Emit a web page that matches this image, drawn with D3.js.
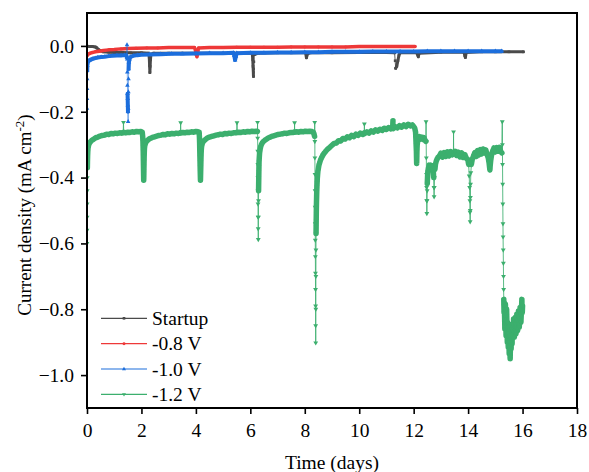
<!DOCTYPE html>
<html><head><meta charset="utf-8">
<script src="https://cdn.jsdelivr.net/npm/d3@7"></script>
<style>html,body{margin:0;padding:0;background:#fff;} svg{display:block;font-family:"Liberation Serif","Times New Roman",serif;}</style>
</head><body><svg id="chart" width="589" height="472"></svg>
<script>
const xTicks=[0,2,4,6,8,10,12,14,16,18];
const yTicks=[0,-0.2,-0.4,-0.6,-0.8,-1.0];
const seriesNames=["Startup","-0.8 V","-1.0 V","-1.2 V"];

const startup=[[0.000,-0.001],[0.10,-0.002],[0.20,-0.002],[0.30,-0.003],[0.36,-0.006],[0.42,-0.011],[0.50,-0.015],[0.60,-0.018],[0.80,-0.019],[1.0,-0.020],[1.3,-0.020],[1.6,-0.021],[2.0,-0.021],[2.27,-0.022],[2.29,-0.040],[2.30,-0.060],[2.31,-0.081],[2.32,-0.062],[2.33,-0.042],[2.35,-0.025],[2.45,-0.022],[3.0,-0.022],[3.5,-0.022],[4.0,-0.022],[4.5,-0.022],[5.0,-0.022],[5.5,-0.022],[6.07,-0.022],[6.09,-0.042],[6.10,-0.062],[6.11,-0.080],[6.115,-0.093],[6.12,-0.070],[6.13,-0.048],[6.15,-0.026],[6.3,-0.022],[7.0,-0.021],[7.5,-0.021],[8.03,-0.021],[8.06,-0.036],[8.10,-0.024],[8.2,-0.021],[9.0,-0.021],[10.0,-0.020],[11.0,-0.020],[11.3,-0.021],[11.32,-0.045],[11.34,-0.068],[11.38,-0.062],[11.42,-0.045],[11.46,-0.028],[11.5,-0.021],[12.1,-0.020],[12.15,-0.028],[12.17,-0.033],[12.20,-0.022],[13.0,-0.019],[13.85,-0.019],[13.88,-0.030],[13.90,-0.035],[13.93,-0.020],[14.5,-0.018],[15.0,-0.018],[15.5,-0.018],[16.03,-0.018]];

const v08=[[0.000,-0.030],[0.01,-0.028],[0.03,-0.026],[0.07,-0.024],[0.12,-0.022],[0.2,-0.020],[0.3,-0.018],[0.45,-0.016],[0.6,-0.014],[0.8,-0.012],[1.0,-0.011],[1.25,-0.009],[1.5,-0.008],[1.8,-0.007],[2.2,-0.006],[2.6,-0.006],[3.0,-0.005],[3.5,-0.005],[3.95,-0.005],[3.99,-0.015],[4.02,-0.028],[4.04,-0.033],[4.07,-0.018],[4.10,-0.006],[4.5,-0.005],[5.0,-0.005],[5.5,-0.004],[6.0,-0.004],[6.5,-0.004],[7.0,-0.004],[7.5,-0.003],[8.0,-0.003],[8.5,-0.003],[9.0,-0.003],[9.5,-0.003],[10.0,-0.002],[10.5,-0.002],[11.0,-0.002],[11.5,-0.002],[12.05,-0.002]];

const v10=[[0.000,-0.190],[0.002,-0.160],[0.004,-0.130],[0.006,-0.100],[0.009,-0.075],[0.013,-0.060],[0.02,-0.052],[0.04,-0.048],[0.07,-0.045],[0.11,-0.043],[0.16,-0.041],[0.22,-0.039],[0.30,-0.037],[0.40,-0.035],[0.52,-0.034],[0.65,-0.033],[0.80,-0.031],[0.95,-0.030],[1.10,-0.029],[1.25,-0.029],[1.38,-0.028],[1.45,-0.029],[1.465,-0.035],[1.47,0.003],[1.475,-0.040],[1.48,-0.080],[1.485,-0.120],[1.49,-0.145],[1.495,-0.160],[1.50,-0.180],[1.505,-0.200],[1.51,-0.230],[1.515,-0.190],[1.52,-0.140],[1.525,-0.100],[1.53,-0.070],[1.54,-0.050],[1.56,-0.040],[1.60,-0.033],[1.70,-0.030],[1.85,-0.028],[2.0,-0.027],[2.3,-0.026],[2.7,-0.025],[3.1,-0.024],[3.5,-0.024],[4.0,-0.023],[4.5,-0.022],[5.0,-0.022],[5.38,-0.021],[5.41,-0.030],[5.44,-0.043],[5.47,-0.032],[5.50,-0.022],[6.0,-0.021],[6.5,-0.021],[7.0,-0.020],[7.5,-0.020],[8.0,-0.019],[8.5,-0.019],[9.0,-0.018],[9.5,-0.018],[10.0,-0.018],[10.5,-0.017],[11.0,-0.017],[11.5,-0.017],[12.0,-0.017],[12.5,-0.016],[13.0,-0.016],[13.5,-0.016],[14.0,-0.016],[14.5,-0.016],[15.0,-0.016],[15.23,-0.016]];

const v12=[[0.000,-0.600],[0.002,-0.560],[0.004,-0.520],[0.006,-0.480],[0.008,-0.440],[0.010,-0.400],[0.013,-0.370],[0.017,-0.350],[0.022,-0.335],[0.028,-0.322],[0.036,-0.312],[0.05,-0.305],[0.07,-0.299],[0.10,-0.294],[0.14,-0.290],[0.19,-0.286],[0.25,-0.283],[0.32,-0.279],[0.40,-0.277],[0.48,-0.274],[0.56,-0.272],[0.64,-0.271],[0.72,-0.268],[0.80,-0.269],[0.88,-0.266],[0.96,-0.267],[1.04,-0.265],[1.12,-0.266],[1.20,-0.264],[1.28,-0.265],[1.33,-0.263],[1.34,-0.232],[1.35,-0.263],[1.42,-0.264],[1.50,-0.262],[1.58,-0.263],[1.66,-0.261],[1.74,-0.262],[1.82,-0.260],[1.90,-0.261],[1.98,-0.260],[2.03,-0.262],[2.045,-0.275],[2.055,-0.290],[2.06,-0.305],[2.065,-0.320],[2.068,-0.335],[2.071,-0.350],[2.074,-0.365],[2.077,-0.380],[2.080,-0.395],[2.083,-0.408],[2.087,-0.395],[2.090,-0.380],[2.093,-0.365],[2.096,-0.350],[2.10,-0.335],[2.105,-0.322],[2.11,-0.312],[2.12,-0.304],[2.14,-0.298],[2.17,-0.292],[2.21,-0.288],[2.26,-0.284],[2.32,-0.281],[2.40,-0.278],[2.48,-0.276],[2.56,-0.274],[2.64,-0.272],[2.72,-0.271],[2.80,-0.269],[2.88,-0.270],[2.96,-0.267],[3.04,-0.268],[3.12,-0.266],[3.20,-0.267],[3.28,-0.265],[3.36,-0.266],[3.43,-0.264],[3.44,-0.233],[3.45,-0.264],[3.52,-0.263],[3.60,-0.264],[3.68,-0.262],[3.76,-0.263],[3.84,-0.261],[3.92,-0.262],[4.00,-0.260],[4.08,-0.261],[4.12,-0.262],[4.13,-0.277],[4.136,-0.292],[4.14,-0.307],[4.144,-0.322],[4.148,-0.337],[4.152,-0.352],[4.156,-0.367],[4.16,-0.382],[4.164,-0.396],[4.168,-0.408],[4.172,-0.394],[4.176,-0.380],[4.18,-0.366],[4.184,-0.352],[4.188,-0.338],[4.193,-0.325],[4.20,-0.314],[4.21,-0.305],[4.23,-0.298],[4.26,-0.292],[4.30,-0.288],[4.35,-0.284],[4.42,-0.280],[4.50,-0.277],[4.58,-0.275],[4.66,-0.273],[4.74,-0.271],[4.82,-0.270],[4.90,-0.268],[4.98,-0.269],[5.06,-0.266],[5.14,-0.267],[5.22,-0.265],[5.30,-0.266],[5.38,-0.264],[5.46,-0.264],[5.50,-0.263],[5.51,-0.233],[5.52,-0.263],[5.58,-0.262],[5.66,-0.263],[5.74,-0.261],[5.82,-0.262],[5.90,-0.260],[5.98,-0.261],[6.06,-0.259],[6.14,-0.260],[6.22,-0.259],[6.26,-0.260],[6.265,-0.232],[6.27,-0.280],[6.272,-0.320],[6.275,-0.360],[6.278,-0.400],[6.28,-0.440],[6.283,-0.480],[6.286,-0.520],[6.289,-0.555],[6.292,-0.588],[6.296,-0.520],[6.30,-0.470],[6.303,-0.440],[6.306,-0.420],[6.31,-0.400],[6.313,-0.382],[6.317,-0.366],[6.32,-0.352],[6.33,-0.338],[6.34,-0.325],[6.36,-0.314],[6.38,-0.306],[6.41,-0.299],[6.45,-0.293],[6.50,-0.289],[6.56,-0.285],[6.63,-0.281],[6.70,-0.278],[6.78,-0.275],[6.86,-0.273],[6.94,-0.271],[7.02,-0.269],[7.10,-0.268],[7.18,-0.267],[7.26,-0.265],[7.34,-0.266],[7.42,-0.264],[7.50,-0.263],[7.58,-0.263],[7.62,-0.262],[7.625,-0.233],[7.63,-0.262],[7.70,-0.261],[7.78,-0.262],[7.86,-0.260],[7.94,-0.261],[8.02,-0.259],[8.10,-0.260],[8.18,-0.259],[8.26,-0.260],[8.31,-0.262],[8.34,-0.268],[8.36,-0.275],[8.365,-0.232],[8.37,-0.290],[8.372,-0.340],[8.375,-0.390],[8.378,-0.440],[8.38,-0.490],[8.383,-0.540],[8.386,-0.590],[8.389,-0.640],[8.392,-0.690],[8.395,-0.740],[8.398,-0.790],[8.40,-0.850],[8.402,-0.902],[8.405,-0.800],[8.408,-0.700],[8.411,-0.620],[8.414,-0.570],[8.417,-0.550],[8.420,-0.530],[8.423,-0.510],[8.426,-0.492],[8.43,-0.475],[8.435,-0.458],[8.44,-0.442],[8.446,-0.428],[8.453,-0.415],[8.46,-0.403],[8.47,-0.392],[8.48,-0.382],[8.50,-0.372],[8.52,-0.362],[8.55,-0.354],[8.58,-0.346],[8.62,-0.339],[8.67,-0.331],[8.72,-0.325],[8.78,-0.319],[8.85,-0.313],[8.92,-0.308],[9.00,-0.302],[9.08,-0.296],[9.16,-0.295],[9.24,-0.288],[9.32,-0.289],[9.40,-0.281],[9.48,-0.283],[9.56,-0.276],[9.64,-0.279],[9.72,-0.272],[9.80,-0.276],[9.88,-0.268],[9.96,-0.272],[10.04,-0.265],[10.12,-0.269],[10.18,-0.264],[10.19,-0.237],[10.20,-0.266],[10.28,-0.261],[10.36,-0.265],[10.44,-0.258],[10.52,-0.262],[10.60,-0.255],[10.68,-0.259],[10.76,-0.253],[10.84,-0.257],[10.92,-0.250],[11.00,-0.254],[11.08,-0.248],[11.16,-0.252],[11.23,-0.247],[11.24,-0.227],[11.25,-0.251],[11.32,-0.245],[11.40,-0.249],[11.48,-0.242],[11.56,-0.247],[11.64,-0.240],[11.72,-0.245],[11.80,-0.238],[11.88,-0.243],[11.95,-0.240],[12.00,-0.245],[12.04,-0.250],[12.07,-0.262],[12.08,-0.280],[12.09,-0.300],[12.10,-0.320],[12.105,-0.340],[12.11,-0.357],[12.115,-0.340],[12.12,-0.320],[12.13,-0.300],[12.15,-0.288],[12.18,-0.280],[12.22,-0.276],[12.26,-0.283],[12.30,-0.277],[12.34,-0.284],[12.38,-0.279],[12.42,-0.287],[12.45,-0.290],[12.455,-0.230],[12.46,-0.290],[12.465,-0.340],[12.47,-0.390],[12.475,-0.430],[12.48,-0.470],[12.485,-0.509],[12.49,-0.470],[12.495,-0.440],[12.50,-0.418],[12.51,-0.398],[12.52,-0.382],[12.54,-0.372],[12.57,-0.362],[12.60,-0.374],[12.63,-0.362],[12.66,-0.376],[12.69,-0.364],[12.72,-0.380],[12.735,-0.400],[12.745,-0.430],[12.75,-0.458],[12.755,-0.430],[12.765,-0.400],[12.78,-0.375],[12.80,-0.360],[12.83,-0.350],[12.86,-0.344],[12.90,-0.338],[12.95,-0.334],[13.00,-0.326],[13.06,-0.338],[13.12,-0.324],[13.18,-0.336],[13.24,-0.322],[13.30,-0.334],[13.36,-0.321],[13.42,-0.331],[13.46,-0.324],[13.465,-0.261],[13.47,-0.328],[13.52,-0.320],[13.58,-0.333],[13.64,-0.323],[13.70,-0.337],[13.76,-0.325],[13.82,-0.339],[13.88,-0.330],[13.94,-0.342],[13.99,-0.345],[14.02,-0.360],[14.04,-0.395],[14.055,-0.430],[14.065,-0.470],[14.07,-0.505],[14.075,-0.534],[14.08,-0.500],[14.085,-0.460],[14.09,-0.420],[14.10,-0.385],[14.12,-0.360],[14.15,-0.345],[14.20,-0.334],[14.25,-0.324],[14.30,-0.336],[14.35,-0.318],[14.40,-0.331],[14.45,-0.315],[14.50,-0.328],[14.55,-0.313],[14.60,-0.325],[14.65,-0.316],[14.70,-0.330],[14.74,-0.340],[14.77,-0.355],[14.79,-0.370],[14.80,-0.377],[14.81,-0.365],[14.83,-0.348],[14.86,-0.332],[14.90,-0.320],[14.95,-0.310],[15.00,-0.322],[15.05,-0.309],[15.10,-0.320],[15.15,-0.308],[15.20,-0.321],[15.24,-0.325],[15.255,-0.230],[15.26,-0.300],[15.265,-0.360],[15.27,-0.420],[15.275,-0.480],[15.28,-0.540],[15.285,-0.580],[15.29,-0.620],[15.295,-0.660],[15.30,-0.700],[15.305,-0.740],[15.31,-0.770],[15.315,-0.790],[15.320,-0.810],[15.325,-0.790],[15.330,-0.780],[15.335,-0.800],[15.340,-0.820],[15.345,-0.840],[15.350,-0.860],[15.355,-0.840],[15.360,-0.820],[15.365,-0.800],[15.370,-0.785],[15.375,-0.805],[15.380,-0.825],[15.385,-0.845],[15.390,-0.865],[15.395,-0.880],[15.400,-0.860],[15.405,-0.840],[15.410,-0.820],[15.415,-0.800],[15.420,-0.820],[15.425,-0.840],[15.430,-0.860],[15.435,-0.880],[15.440,-0.900],[15.445,-0.880],[15.450,-0.860],[15.455,-0.840],[15.460,-0.860],[15.465,-0.880],[15.470,-0.900],[15.475,-0.915],[15.480,-0.895],[15.485,-0.875],[15.490,-0.860],[15.495,-0.880],[15.500,-0.900],[15.505,-0.920],[15.510,-0.935],[15.515,-0.915],[15.520,-0.895],[15.525,-0.880],[15.530,-0.900],[15.535,-0.920],[15.540,-0.940],[15.545,-0.950],[15.550,-0.930],[15.555,-0.910],[15.560,-0.890],[15.565,-0.870],[15.570,-0.890],[15.575,-0.910],[15.580,-0.920],[15.585,-0.900],[15.590,-0.880],[15.595,-0.860],[15.600,-0.850],[15.605,-0.870],[15.610,-0.890],[15.615,-0.905],[15.620,-0.885],[15.625,-0.865],[15.630,-0.845],[15.640,-0.865],[15.650,-0.885],[15.660,-0.870],[15.665,-0.850],[15.670,-0.830],[15.680,-0.850],[15.690,-0.870],[15.700,-0.885],[15.710,-0.865],[15.720,-0.845],[15.730,-0.825],[15.740,-0.845],[15.750,-0.865],[15.760,-0.875],[15.770,-0.855],[15.780,-0.835],[15.790,-0.815],[15.800,-0.835],[15.810,-0.855],[15.820,-0.865],[15.830,-0.845],[15.840,-0.825],[15.850,-0.805],[15.860,-0.825],[15.870,-0.845],[15.880,-0.855],[15.890,-0.835],[15.900,-0.815],[15.910,-0.795],[15.920,-0.815],[15.930,-0.835],[15.940,-0.840],[15.950,-0.820],[15.960,-0.800],[15.970,-0.780],[15.975,-0.770],[15.980,-0.790],[15.990,-0.810],[16.000,-0.790]];

const colors=["#4a4a4a","#ee3838","#1c6edc","#3caf6e"];
const W=589,H=472,L=87,R=577,T=13,B=408;
const FONT=19.5, JUMP=7;

const svg=d3.select("#chart");
const x=d3.scaleLinear().domain([0,18]).range([L,R]);
const y=d3.scaleLinear().domain([-1.1,0.1]).range([B,T]);

svg.append("defs").append("clipPath").attr("id","clip").append("rect")
  .attr("x",L).attr("y",T).attr("width",R-L).attr("height",B-T);
const plot=svg.append("g").attr("clip-path","url(#clip)");

function drawSeries(data,color,bandW,symType,symSize,rot,thinOp){
  const g=plot.append("g");
  const pts=data.map(d=>[x(d[0]),y(d[1])]);
  const runs=[],thin=[];let cur=[pts[0]];
  for(let i=1;i<pts.length;i++){
    const dy=Math.abs(pts[i][1]-pts[i-1][1]);
    if(dy>JUMP){ if(cur.length>1) runs.push(cur); thin.push([pts[i-1],pts[i]]); cur=[pts[i]]; }
    else cur.push(pts[i]);
  }
  if(cur.length>1) runs.push(cur);
  const line=d3.line();
  g.selectAll(null).data(thin).join("path").attr("d",line).attr("fill","none")
    .attr("stroke",color).attr("stroke-width",1).attr("stroke-opacity",thinOp);
  g.selectAll(null).data(runs).join("path").attr("d",line).attr("fill","none")
    .attr("stroke",color).attr("stroke-width",bandW).attr("stroke-linejoin","round").attr("stroke-linecap","round");
  const sym=d3.symbol().type(symType).size(symSize);
  g.selectAll(null).data(data).join("path").attr("d",sym)
    .attr("transform",d=>`translate(${x(d[0])},${y(d[1])}) rotate(${rot})`).attr("fill",color);
}
const symTypes=[d3.symbolSquare,d3.symbolCircle,d3.symbolTriangle,d3.symbolTriangle];
const symRot=[0,0,0,180];
drawSeries(startup,colors[0],3,symTypes[0],7,0,0.9);
drawSeries(v08,colors[1],3.5,symTypes[1],7,0,0.9);
drawSeries(v10,colors[2],4,symTypes[2],9,0,0.55);
drawSeries(v12,colors[3],5.5,symTypes[3],10,180,0.85);

// axes
const xAxis=svg.append("g").attr("transform",`translate(0,${B})`)
  .call(d3.axisBottom(x).tickValues(xTicks).tickSize(6).tickPadding(9).tickFormat(d3.format("d")));
const yAxis=svg.append("g").attr("transform",`translate(${L},0)`)
  .call(d3.axisLeft(y).tickValues(yTicks).tickSize(6).tickPadding(7).tickFormat(d3.format(".1f")));
[xAxis,yAxis].forEach(a=>{
  a.select(".domain").remove();
  a.selectAll(".tick line").attr("stroke","#000").attr("stroke-width",1.6);
  a.selectAll(".tick text").attr("fill","#000").style("font-family",'"Liberation Serif",serif').style("font-size",FONT+"px");
});
svg.append("rect").attr("x",L).attr("y",T).attr("width",R-L).attr("height",B-T)
  .attr("fill","none").attr("stroke","#000").attr("stroke-width",2);

// titles
svg.append("text").attr("x",(L+R)/2).attr("y",469).attr("text-anchor","middle")
  .style("font-size",FONT+"px").text("Time (days)");
const yt=svg.append("text").attr("transform","translate(30.5,215) rotate(-90)").attr("text-anchor","middle")
  .style("font-size","19px");
yt.append("tspan").text("Current density (mA cm");
yt.append("tspan").attr("dy",-7).style("font-size","13px").text("-2");
yt.append("tspan").attr("dy",7).text(")");

// legend
const legY=[318.3,343.7,369,394.3];
const leg=svg.append("g");
seriesNames.forEach((n,i)=>{
  leg.append("line").attr("x1",101).attr("x2",147).attr("y1",legY[i]).attr("y2",legY[i])
    .attr("stroke",colors[i]).attr("stroke-width",1.2);
  leg.append("path").attr("d",d3.symbol().type(symTypes[i]).size(7)())
    .attr("transform",`translate(124,${legY[i]}) rotate(${symRot[i]})`).attr("fill",colors[i]);
  leg.append("text").attr("x",152).attr("y",legY[i]+6.5).style("font-size",FONT+"px").text(n);
});
</script></body></html>
